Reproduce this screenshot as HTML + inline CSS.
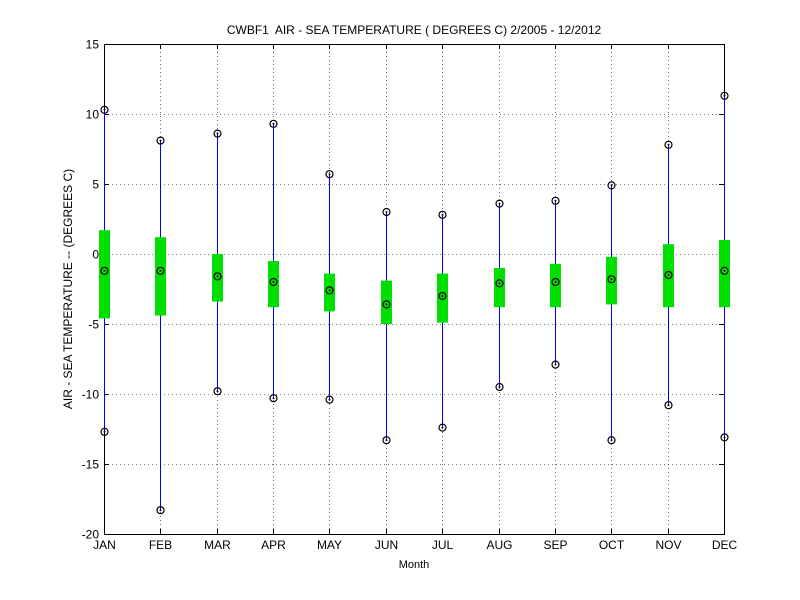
<!DOCTYPE html>
<html><head><meta charset="utf-8"><style>
body{margin:0;background:#fff;}
svg{display:block;font-family:"Liberation Sans",sans-serif;}
</style></head><body>
<svg id="chart" width="800" height="600">
<rect x="0" y="0" width="800" height="600" fill="#fff"/>
<text x="414" y="34" font-size="12" text-anchor="middle">CWBF1&#160; AIR - SEA TEMPERATURE ( DEGREES C) 2/2005 - 12/2012</text>
<text x="414" y="568" font-size="11" text-anchor="middle">Month</text>
<text transform="translate(72,289) rotate(-90)" font-size="12" text-anchor="middle">AIR - SEA TEMPERATURE -- (DEGREES C)</text>
<g id="grid"></g><g id="axes"></g><g id="marks"></g>
</svg>
<script>
const months=["JAN","FEB","MAR","APR","MAY","JUN","JUL","AUG","SEP","OCT","NOV","DEC"];
const maxVals=[10.3,8.1,8.6,9.3,5.7,3.0,2.8,3.6,3.8,4.9,7.8,11.3];
const minVals=[-12.7,-18.3,-9.8,-10.3,-10.4,-13.3,-12.4,-9.5,-7.9,-13.3,-10.8,-13.1];
const q3Vals=[1.7,1.2,0,-0.5,-1.4,-1.9,-1.4,-1.0,-0.7,-0.2,0.7,1.0];
const q1Vals=[-4.6,-4.4,-3.4,-3.8,-4.1,-5.0,-4.9,-3.8,-3.8,-3.6,-3.8,-3.8];
const medVals=[-1.2,-1.2,-1.6,-2.0,-2.6,-3.6,-3.0,-2.1,-2.0,-1.8,-1.5,-1.2];
const yTicks=[15,10,5,0,-5,-10,-15,-20];
const L=104,R=724,T=44,B=534,ymin=-20,ymax=15;
const xs=i=>Math.round(L+i*(R-L)/(months.length-1))+0.5;
const ys=v=>B-(v-ymin)/(ymax-ymin)*(B-T);
const NS="http://www.w3.org/2000/svg";
function mk(p,tag,a){const e=document.createElementNS(NS,tag);for(const k in a)e.setAttribute(k,a[k]);p.appendChild(e);return e;}
const grid=document.getElementById('grid'),marks=document.getElementById('marks'),axes=document.getElementById('axes');
const f=mk(axes,'rect',{x:L+0.5,y:T+0.5,width:R-L,height:B-T,fill:'none',stroke:'#000','stroke-width':1});


yTicks.forEach(t=>{const y=Math.round(ys(t))+0.5;
 const g=mk(grid,'line',{x1:L,x2:R,y1:y,y2:y,stroke:'#000','stroke-width':0.6,'stroke-dasharray':'1,3'});
 
 
 mk(axes,'line',{x1:L,x2:L+5,y1:y,y2:y,stroke:'#000'});
 mk(axes,'line',{x1:R,x2:R-5,y1:y,y2:y,stroke:'#000'});
 const tx=mk(axes,'text',{x:L-5,y:y+4,'font-size':12,'text-anchor':'end'});tx.textContent=t;
 
 
});
months.forEach((m,i)=>{const x=xs(i);
 const g=mk(grid,'line',{x1:x,x2:x,y1:T,y2:B,stroke:'#000','stroke-width':0.6,'stroke-dasharray':'1,3'});
 
 
 mk(axes,'line',{x1:x,x2:x,y1:B,y2:B-5,stroke:'#000'});
 mk(axes,'line',{x1:x,x2:x,y1:T,y2:T+5,stroke:'#000'});
 const tx=mk(axes,'text',{x:x,y:B+15,'font-size':12,'text-anchor':'middle'});tx.textContent=m;
 
 
 const w=mk(marks,'line',{x1:x,x2:x,y1:ys(maxVals[i]),y2:ys(minVals[i]),stroke:'#0000ff','stroke-width':1});
 
 
 const b=mk(marks,'rect',{x:x-5.5,y:ys(q3Vals[i]),width:11,height:ys(q1Vals[i])-ys(q3Vals[i]),fill:'#00e000'});
 
 
 [maxVals[i],minVals[i],medVals[i]].forEach((v,k)=>{
  const c=mk(marks,'circle',{cx:x,cy:ys(v),r:3.5,fill:'none',stroke:'#000','stroke-width':1.2});
  
  
  mk(marks,'circle',{cx:x,cy:ys(v),r:1,fill:'#000'});
 });
});
</script>
</body></html>
